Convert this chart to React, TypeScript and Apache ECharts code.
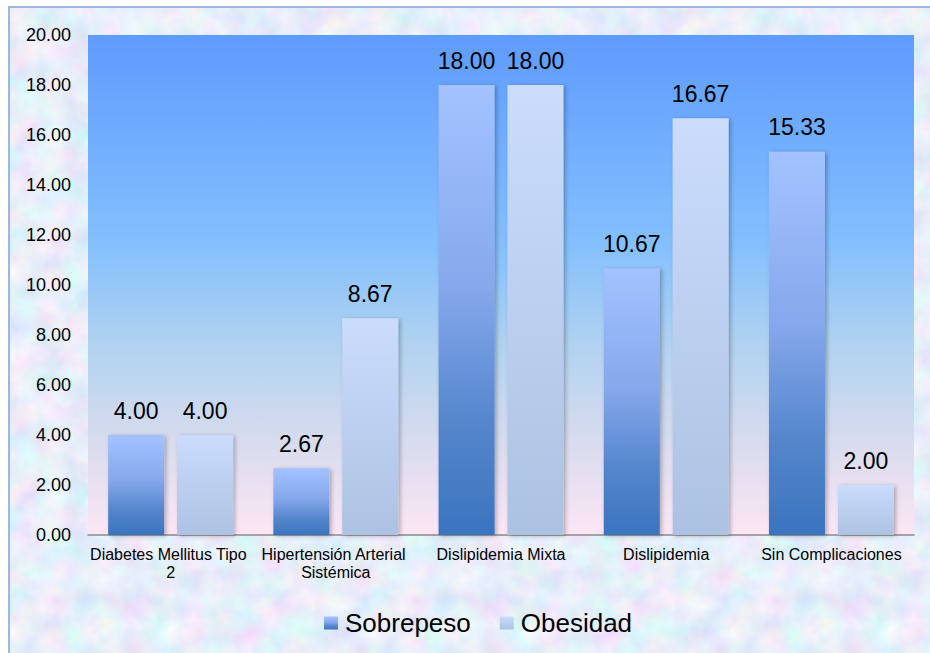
import React, { useEffect, useRef } from "react";
import * as echarts from "echarts";

// Complicaciones por grupo de peso (porcentaje)
const categories = [
  "Diabetes Mellitus Tipo 2",
  "Hipertensión Arterial Sistémica",
  "Dislipidemia Mixta",
  "Dislipidemia",
  "Sin Complicaciones",
];
const sobrepeso = [4.0, 2.67, 18.0, 10.67, 15.33];
const obesidad = [4.0, 8.67, 18.0, 16.67, 2.0];
const seriesNames = ["Sobrepeso", "Obesidad"];

const FONT = "'Liberation Sans', Arial, sans-serif";

// Pastel paper-like texture for the chart area
const textureSvg =
  "<svg xmlns='http://www.w3.org/2000/svg' width='360' height='360'>" +
  "<filter id='n' x='0' y='0' width='100%' height='100%'>" +
  "<feTurbulence type='fractalNoise' baseFrequency='0.035' numOctaves='3' seed='11' stitchTiles='stitch'/>" +
  "<feColorMatrix values='0.45 0 0 0 0.58  0 0.35 0 0 0.68  0 0 0.18 0 0.86  0 0 0 0 1'/>" +
  "</filter>" +
  "<rect width='100%' height='100%' filter='url(#n)'/></svg>";
const textureUrl = `url("data:image/svg+xml,${encodeURIComponent(textureSvg)}")`;

const vGrad = (stops: [number, string][]) =>
  new echarts.graphic.LinearGradient(
    0,
    0,
    0,
    1,
    stops.map(([offset, color]) => ({ offset, color }))
  );

export default function App() {
  const ref = useRef<HTMLDivElement>(null);

  useEffect(() => {
    if (!ref.current) return;
    const chart = echarts.init(ref.current, undefined, { renderer: "svg" });

    const sobrepesoFill = vGrad([
      [0, "#a3c2ff"],
      [0.45, "#86a8ec"],
      [0.75, "#5586cc"],
      [1, "#3a74bf"],
    ]);
    const obesidadFill = vGrad([
      [0, "#cbdcfd"],
      [1, "#adc2e2"],
    ]);

    const barLabel = {
      show: true,
      position: "top" as const,
      distance: 13,
      color: "#000",
      fontFamily: FONT,
      fontSize: 23,
      formatter: (p: any) => Number(p.value).toFixed(2),
    };
    const barShadow = {
      shadowBlur: 4,
      shadowOffsetX: 2,
      shadowOffsetY: 1,
      shadowColor: "rgba(0,0,0,0.28)",
    };

    chart.setOption({
      animation: false,
      backgroundColor: "transparent",
      grid: {
        left: 78,
        right: 16,
        top: 27,
        bottom: 118,
        show: true,
        borderWidth: 0,
        backgroundColor: vGrad([
          [0, "#5e9bfe"],
          [0.42, "#84c0fd"],
          [0.62, "#b1d2f0"],
          [0.82, "#d9dcee"],
          [1, "#fde6f4"],
        ]),
      },
      legend: {
        left: 309,
        top: 597,
        icon: "rect",
        itemWidth: 14,
        itemHeight: 13,
        itemGap: 29,
        data: seriesNames,
        textStyle: {
          fontFamily: FONT,
          fontSize: 26,
          color: "#000",
          padding: [0, 0, 0, 2],
        },
      },
      xAxis: {
        type: "category",
        data: categories,
        axisLine: { show: true, lineStyle: { color: "#8a8a8a", width: 1.5 } },
        axisTick: { show: false },
        axisLabel: {
          interval: 0,
          margin: 10,
          color: "#000",
          fontFamily: FONT,
          fontSize: 16,
          lineHeight: 18,
          width: 162,
          overflow: "break",
          align: "center",
        },
      },
      yAxis: {
        type: "value",
        min: 0,
        max: 20,
        interval: 2,
        axisLine: { show: false },
        axisTick: { show: false },
        splitLine: { show: false },
        axisLabel: {
          margin: 17,
          color: "#000",
          fontFamily: FONT,
          fontSize: 18,
          formatter: (v: number) => v.toFixed(2),
        },
      },
      series: [
        {
          name: seriesNames[0],
          type: "bar",
          data: sobrepeso,
          barWidth: 56,
          barGap: "23%",
          itemStyle: { color: sobrepesoFill, ...barShadow },
          label: barLabel,
        },
        {
          name: seriesNames[1],
          type: "bar",
          data: obesidad,
          barWidth: 56,
          itemStyle: { color: obesidadFill, ...barShadow },
          label: barLabel,
        },
      ],
    });

    return () => chart.dispose();
  }, []);

  return (
    <div
      style={{
        position: "fixed",
        left: 8,
        top: 6,
        width: 920,
        height: 645,
        borderLeft: "2px solid #9cb8df",
        borderTop: "2px solid #9cb8df",
        backgroundColor: "#cfdaf3",
        backgroundImage: textureUrl,
        overflow: "hidden",
      }}
    >
      <div ref={ref} style={{ width: 920, height: 645 }} />
    </div>
  );
}
